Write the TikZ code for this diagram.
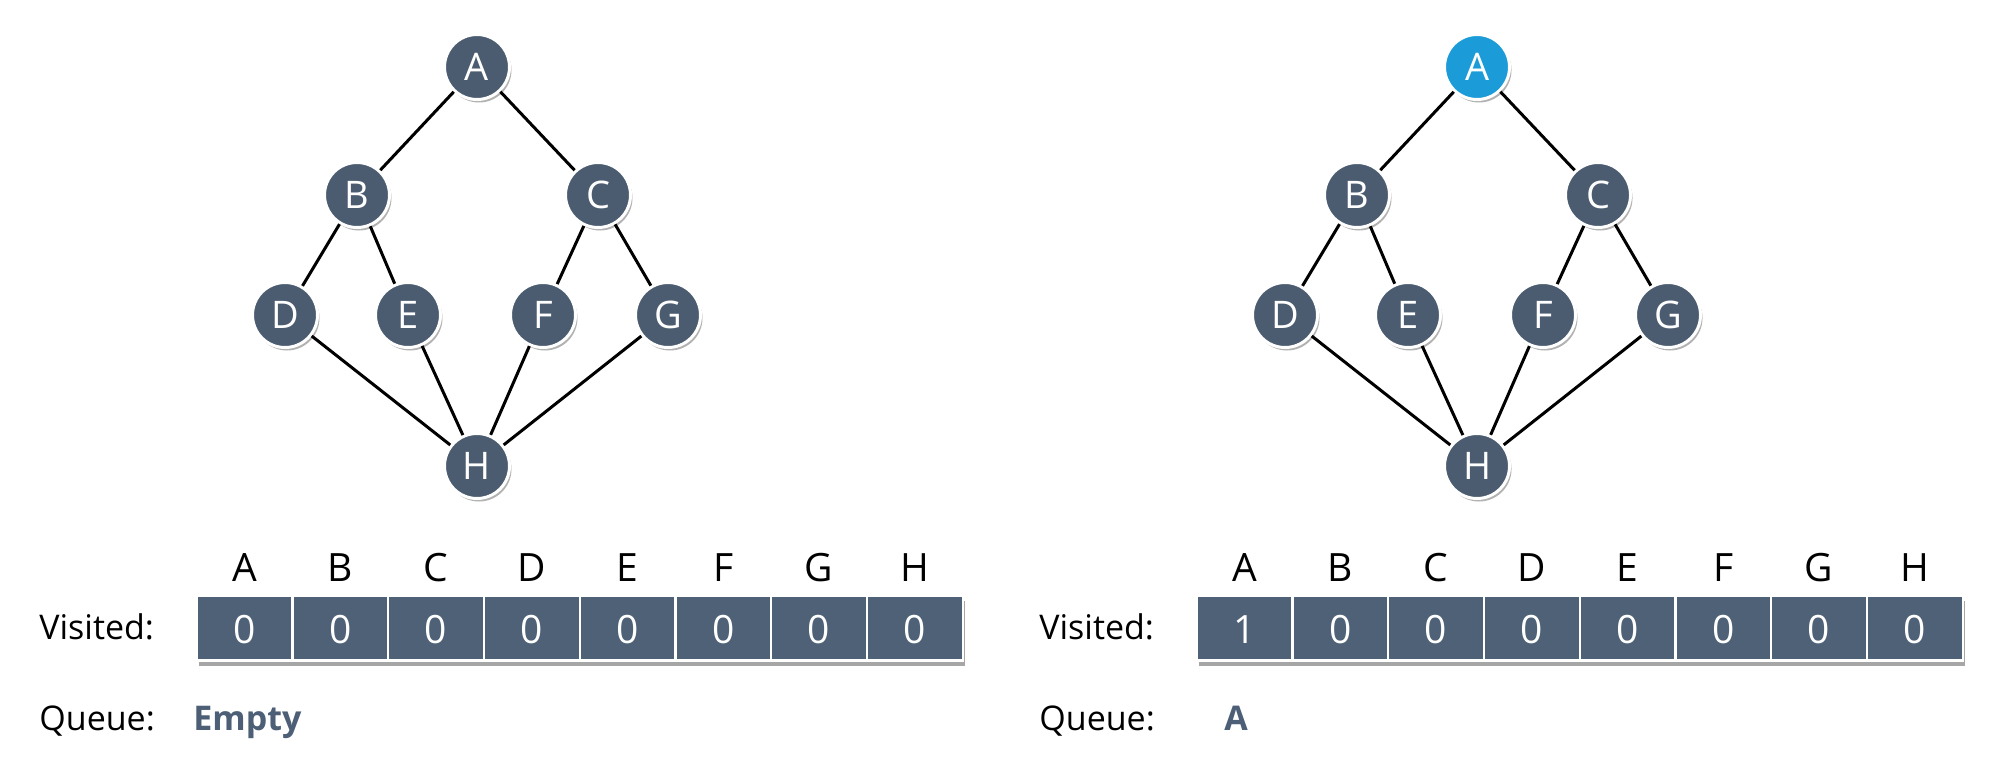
\documentclass[tikz,border=0pt]{standalone}
\usepackage{fontspec}
\setmainfont{Open Sans}
\usetikzlibrary{shadows}
\definecolor{slate}{HTML}{4B5C70}
\definecolor{cellc}{HTML}{4E6177}
\definecolor{hiblue}{HTML}{1B9BD7}
\definecolor{qtext}{HTML}{4D5F76}
\tikzset{
  gnode/.style={circle, fill=slate, draw=white, line width=1.5pt, minimum size=32.5pt,
    inner sep=0pt, text=white, font=\fontsize{19}{20}\selectfont,
    drop shadow={shadow xshift=1pt, shadow yshift=-1.5pt, opacity=0.3, fill=black}},
  gedge/.style={line width=1.5pt, black},
  tablebg/.style={rectangle, fill=cellc, minimum width=383pt, minimum height=32.5pt, inner sep=0pt,
    drop shadow={shadow xshift=1pt, shadow yshift=-2.5pt, opacity=0.35, fill=black}},
  cellbox/.style={rectangle, fill=cellc, draw=white, line width=1.1pt, minimum width=47.9pt,
    minimum height=32.5pt, inner sep=0pt},
  hdr/.style={anchor=base, inner sep=0pt, font=\fontsize{19.5}{20}\selectfont},
  digit/.style={anchor=base, inner sep=0pt, text=white, font=\fontsize{19.5}{20}\selectfont},
  lbl/.style={anchor=base west, inner sep=0pt, font=\fontsize{17}{18}\selectfont},
  qval/.style={anchor=base west, inner sep=0pt, text=qtext, font=\bfseries\fontsize{17}{18}\selectfont}
}
\begin{document}
\begin{tikzpicture}[x=0.5pt, y=-0.5pt]
\useasboundingbox[fill=white] (0,0) rectangle (2000,765);
\foreach \p/\ox/\acol/\av/\q in {0/0/slate/0/Empty, 1/1000/hiblue/1/A}{
  \begin{scope}[shift={(\ox,0)}]
    \node[gnode, fill=\acol] (A\p) at (477,67) {A};
    \node[gnode] (B\p) at (357,195) {B};
    \node[gnode] (C\p) at (598,195) {C};
    \node[gnode] (D\p) at (285,315) {D};
    \node[gnode] (E\p) at (408,315) {E};
    \node[gnode] (F\p) at (543,315) {F};
    \node[gnode] (G\p) at (668,315) {G};
    \node[gnode] (H\p) at (477,466) {H};
    \foreach \u/\v in {A/B,A/C,B/D,B/E,C/F,C/G,D/H,E/H,F/H,G/H}
      \draw[gedge] (\u\p) -- (\v\p);
    \node[tablebg] (T\p) at (580,628) {};
    \foreach \l [count=\i from 0] in {A,B,C,D,E,F,G,H}{
      \node[cellbox] (cell\p\l) at ({244.6+95.75*\i},628) {};
      \node[hdr] (hdr\p\l) at ({244.6+95.75*\i},581.5) {\l};
      \node[digit] (dig\p\l) at ({244.6+95.75*\i},643) {\ifnum\i=0 \av\else 0\fi};
    }
    \node[lbl] (vis\p) at (39,639) {Visited:};
    \node[lbl] (que\p) at (39,730.5) {Queue:};
    \node[qval] (qv\p) at ({\ifnum\p=0 193\else 224\fi},730.5) {\q};
  \end{scope}
}
\end{tikzpicture}
\end{document}
